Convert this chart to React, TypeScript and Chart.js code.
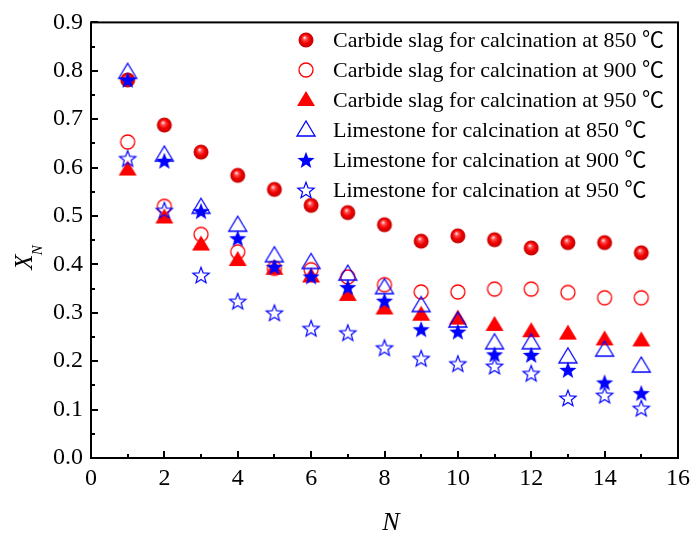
import React, { useEffect, useRef } from "react";
import { Chart, registerables } from "chart.js";
Chart.register(...registerables);

const cycles = [1, 2, 3, 4, 5, 6, 7, 8, 9, 10, 11, 12, 13, 14, 15];
const carbide850 = [0.781, 0.688, 0.632, 0.584, 0.555, 0.522, 0.507, 0.482, 0.448, 0.459, 0.451, 0.434, 0.445, 0.445, 0.424];
const carbide900 = [0.653, 0.52, 0.462, 0.426, 0.392, 0.389, 0.374, 0.358, 0.343, 0.343, 0.349, 0.349, 0.342, 0.331, 0.331];
const carbide950 = [0.596, 0.497, 0.441, 0.409, 0.391, 0.375, 0.337, 0.309, 0.296, 0.288, 0.275, 0.262, 0.257, 0.245, 0.243];
const limestone850 = [0.797, 0.626, 0.518, 0.481, 0.418, 0.404, 0.38, 0.352, 0.315, 0.283, 0.238, 0.238, 0.209, 0.223, 0.19];
const limestone900 = [0.781, 0.614, 0.51, 0.454, 0.395, 0.375, 0.353, 0.325, 0.266, 0.261, 0.214, 0.213, 0.182, 0.156, 0.134];
const limestone950 = [0.619, 0.512, 0.378, 0.324, 0.3, 0.268, 0.259, 0.228, 0.206, 0.195, 0.19, 0.175, 0.124, 0.13, 0.103];

const seriesLabels = [
  "Carbide slag for calcination at 850 ℃",
  "Carbide slag for calcination at 900 ℃",
  "Carbide slag for calcination at 950 ℃",
  "Limestone for calcination at 850 ℃",
  "Limestone for calcination at 900 ℃",
  "Limestone for calcination at 950 ℃",
];
const markerKinds = ["sphere", "openCircle", "filledTriangle", "openTriangle", "filledStar", "openStar"];

const xMin = 0, xMax = 16, xStep = 2;
const yMin = 0, yMax = 0.9, yStep = 0.1;
const xTitle = "N";
const yTitleMain = "X";
const yTitleSub = "N";

const FONT = "'Liberation Serif', 'Times New Roman', 'Noto Sans CJK SC', serif";
const RED = "#ff0000";
const BLUE = "#0000ff";

function starPath(ctx: CanvasRenderingContext2D, cx: number, cy: number, ro: number, ri: number) {
  ctx.beginPath();
  for (let i = 0; i < 10; i++) {
    const r = i % 2 === 0 ? ro : ri;
    const a = -Math.PI / 2 + (i * Math.PI) / 5;
    const px = cx + r * Math.cos(a);
    const py = cy + r * Math.sin(a);
    if (i === 0) ctx.moveTo(px, py);
    else ctx.lineTo(px, py);
  }
  ctx.closePath();
}

function makeMarker(kind: string): HTMLCanvasElement {
  const s = 22;
  const c = document.createElement("canvas");
  c.width = s;
  c.height = s;
  const ctx = c.getContext("2d")!;
  const cx = s / 2, cy = s / 2;
  if (kind === "sphere") {
    const r = 7.5;
    const g = ctx.createRadialGradient(cx - 1.5, cy - 2.5, 0.3, cx, cy, r);
    g.addColorStop(0, "#ffe8e8");
    g.addColorStop(0.25, "#ff4a4a");
    g.addColorStop(0.6, "#f00000");
    g.addColorStop(1, "#c00000");
    ctx.fillStyle = g;
    ctx.beginPath();
    ctx.arc(cx, cy, r, 0, Math.PI * 2);
    ctx.fill();
  } else if (kind === "openCircle") {
    ctx.strokeStyle = RED;
    ctx.lineWidth = 1.3;
    ctx.beginPath();
    ctx.arc(cx, cy, 7, 0, Math.PI * 2);
    ctx.stroke();
  } else if (kind === "filledTriangle" || kind === "openTriangle") {
    const h = 15, w = 18;
    ctx.beginPath();
    ctx.moveTo(cx, cy - h * 0.6);
    ctx.lineTo(cx + w / 2, cy + h * 0.4);
    ctx.lineTo(cx - w / 2, cy + h * 0.4);
    ctx.closePath();
    if (kind === "filledTriangle") {
      ctx.fillStyle = RED;
      ctx.fill();
    } else {
      ctx.strokeStyle = BLUE;
      ctx.lineWidth = 1.3;
      ctx.stroke();
    }
  } else if (kind === "filledStar") {
    starPath(ctx, cx, cy + 0.8, 9, 3.8);
    ctx.fillStyle = BLUE;
    ctx.fill();
  } else if (kind === "openStar") {
    starPath(ctx, cx, cy + 0.8, 8.5, 3.6);
    ctx.strokeStyle = BLUE;
    ctx.lineWidth = 1.2;
    ctx.stroke();
  }
  return c;
}

export default function App() {
  const ref = useRef<HTMLCanvasElement | null>(null);
  useEffect(() => {
    document.body.style.margin = "0";
    const canvas = ref.current!;
    const markers = markerKinds.map(makeMarker);
    const seriesValues = [carbide850, carbide900, carbide950, limestone850, limestone900, limestone950];

    const framePlugin = {
      id: "frame",
      afterDatasetsDraw(chart: any) {
        const { ctx, chartArea } = chart;
        const { left, right, top, bottom } = chartArea;
        const xs = chart.scales.x;
        const ys = chart.scales.y;
        ctx.save();
        ctx.strokeStyle = "#000";
        ctx.lineWidth = 2;
        for (let v = xMin; v <= xMax + 1e-9; v += 1) {
          const px = Math.round(xs.getPixelForValue(v));
          const len = Math.abs(v % 2) < 1e-9 ? 7 : 4;
          ctx.beginPath();
          ctx.moveTo(px, bottom);
          ctx.lineTo(px, bottom - len);
          ctx.stroke();
        }
        for (let i = 0; i <= 18; i++) {
          const v = yMin + i * 0.05;
          const py = Math.round(ys.getPixelForValue(v));
          const len = i % 2 === 0 ? 7 : 4;
          ctx.beginPath();
          ctx.moveTo(left, py);
          ctx.lineTo(left + len, py);
          ctx.stroke();
        }
        ctx.strokeRect(left, top, right - left, bottom - top);

        // legend
        const lx = 306, ly0 = 40, dy = 30, tx = 333;
        ctx.font = `22px ${FONT}`;
        ctx.fillStyle = "#000";
        ctx.textBaseline = "middle";
        ctx.textAlign = "left";
        for (let i = 0; i < seriesLabels.length; i++) {
          const y = ly0 + i * dy;
          const m = markers[i];
          ctx.drawImage(m, lx - m.width / 2, y - m.height / 2);
          ctx.fillText(seriesLabels[i], tx, y + 1);
        }

        // axis titles
        ctx.font = `italic 26px ${FONT}`;
        ctx.textAlign = "center";
        ctx.textBaseline = "alphabetic";
        ctx.fillText(xTitle, 391, 530);

        ctx.save();
        ctx.translate(0, 257);
        ctx.rotate(-Math.PI / 2);
        ctx.textAlign = "left";
        ctx.textBaseline = "alphabetic";
        ctx.font = `italic 25px ${FONT}`;
        const wMain = ctx.measureText(yTitleMain).width;
        ctx.font = `italic 15px ${FONT}`;
        const wSub = ctx.measureText(yTitleSub).width;
        const start = -(wMain + wSub) / 2;
        ctx.font = `italic 25px ${FONT}`;
        ctx.fillText(yTitleMain, start, 31.5);
        ctx.font = `italic 15px ${FONT}`;
        ctx.fillText(yTitleSub, start + wMain - 1, 41.5);
        ctx.restore();
        ctx.restore();
      },
    };

    const chart = new Chart(canvas, {
      type: "scatter",
      data: {
        datasets: seriesValues.map((vals, i) => ({
          label: seriesLabels[i],
          data: cycles.map((x, j) => ({ x, y: vals[j] })),
          pointStyle: markers[i] as any,
          pointRadius: 7,
          showLine: false,
          order: seriesValues.length - 1 - i,
        })),
      },
      options: {
        animation: false,
        responsive: false,
        devicePixelRatio: 1,
        layout: { padding: { left: 0, right: 14, top: 19, bottom: 0 } },
        plugins: { legend: { display: false }, tooltip: { enabled: false } },
        scales: {
          x: {
            type: "linear",
            min: xMin,
            max: xMax,
            ticks: { stepSize: xStep, color: "#000", font: { family: FONT, size: 24 }, padding: 6, maxRotation: 0 },
            grid: { display: false, drawTicks: false },
            border: { display: false },
            afterFit: (s: any) => { s.height = 76; },
          },
          y: {
            type: "linear",
            min: yMin,
            max: yMax,
            ticks: {
              stepSize: yStep,
              color: "#000",
              font: { family: FONT, size: 24 },
              padding: 8,
              callback: (v: any) => Number(v).toFixed(1),
            },
            grid: { display: false, drawTicks: false },
            border: { display: false },
            afterFit: (s: any) => { s.width = 91; },
          },
        },
      },
      plugins: [framePlugin],
    });
    return () => chart.destroy();
  }, []);
  return (
    <div style={{ width: 696, height: 534, background: "#fff" }}>
      <canvas ref={ref} width={696} height={534} style={{ width: 696, height: 534, display: "block" }} />
    </div>
  );
}
